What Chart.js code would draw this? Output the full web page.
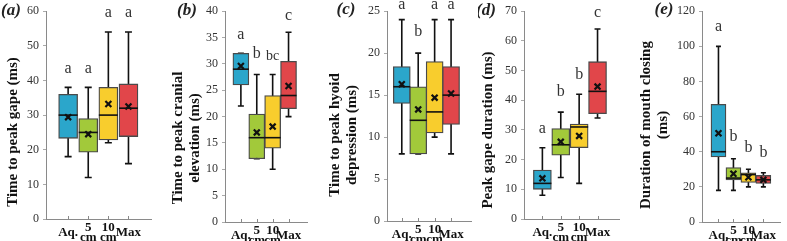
<!DOCTYPE html>
<html lang="en">
<head>
    <meta charset="UTF-8">
    <title>Feeding kinematics box plots</title>
    <style>
        body {
            margin: 0;
            background: #ffffff;
        }
        #wrap {
            position: relative;
            width: 787px;
            height: 241px;
            overflow: hidden;
        }
        #wrap canvas {
            position: absolute;
            top: 0;
        }
    </style>
    <script src="https://cdn.jsdelivr.net/npm/chart.js"></script>
</head>
<body>
    <div id="wrap"></div>

    <script>
        // groups on the x axis
        const categories = ['Aq.', '5 cm', '10 cm', 'Max'];
        const tickLabels = [['Aq.'], ['5', 'cm'], ['10', 'cm'], ['Max']];

        // (a) time to peak gape
        const gapeMin = [18, 12, 22, 16];
        const gapeQ1 = [23.3, 19.3, 22.8, 23.8];
        const gapeMedian = [30, 25, 30, 32];
        const gapeQ3 = [36, 29, 38, 39];
        const gapeMax = [38, 38, 54, 54];
        const gapeMean = [29.4, 24.5, 33.2, 32.5];
        const gapeLetters = ['a', 'a', 'a', 'a'];
        const gapeLetterY = [43.5, 43.5, 59.5, 59.5];

        // (b) time to peak cranial elevation
        const cranMin = [22, 12, 10, 20];
        const cranQ1 = [26, 12, 14, 21.5];
        const cranMedian = [29, 16, 16, 24];
        const cranQ3 = [32, 20.5, 24, 30.5];
        const cranMax = [32, 28, 28, 36];
        const cranMean = [29.6, 17, 18.1, 25.8];
        const cranLetters = ['a', 'b', 'bc', 'c'];
        const cranLetterY = [35.5, 32, 31.5, 39.2];

        // (c) time to peak hyoid depression
        const hyoMin = [8, 8, 10, 8];
        const hyoQ1 = [14, 8, 10.5, 11.5];
        const hyoMedian = [16, 12, 13, 15];
        const hyoQ3 = [18.4, 16, 19, 18.4];
        const hyoMax = [24, 20, 24, 24];
        const hyoMean = [16.3, 13.3, 14.7, 15.2];
        const hyoLetters = ['a', 'b', 'a', 'a'];
        const hyoLetterY = [25.8, 22.6, 25.8, 25.8];

        // (d) peak gape duration
        const durMin = [8, 14, 12, 34];
        const durQ1 = [10, 21.5, 24, 35.5];
        const durMedian = [12, 25, 31, 43];
        const durQ3 = [16.5, 30.5, 32, 53];
        const durMax = [24, 36, 42, 64];
        const durMean = [13.7, 26, 28, 44.6];
        const durLetters = ['a', 'b', 'b', 'c'];
        const durLetterY = [30.5, 43, 48.5, 69.5];

        // (e) duration of mouth closing
        const closeMin = [18, 18, 20, 20];
        const closeQ1 = [37, 24, 22.5, 22];
        const closeMedian = [40, 25, 27, 24];
        const closeQ3 = [67, 31, 28, 26.5];
        const closeMax = [100, 36, 30, 28];
        const closeMean = [50.5, 27.5, 25.5, 24];
        const closeLetters = ['a', 'b', 'b', 'b'];
        const closeLetterY = [111, 48.5, 42.5, 39.5];

        const fills = ['#2ba6cb', '#a2c93a', '#f8cd2d', '#e1464a'];

        const panels = [
            { tag: '(a)', title: ['Time to peak gape (ms)'], yMax: 60, step: 10,
              min: gapeMin, q1: gapeQ1, med: gapeMedian, q3: gapeQ3, max: gapeMax, mean: gapeMean,
              letters: gapeLetters, letterY: gapeLetterY,
              left: 0, width: 158, L: 46, R: 153, T: 11, B: 219, xMin: -0.1, xMax: 5.15, box: 19, cap: 7,
              tagX: 11, tagY: 11, titleX: 13, titleY: 132 },
            { tag: '(b)', title: ['Time to peak cranial', 'elevation (ms)'], yMax: 40, step: 5,
              min: cranMin, q1: cranQ1, med: cranMedian, q3: cranQ3, max: cranMax, mean: cranMean,
              letters: cranLetters, letterY: cranLetterY,
              left: 158, width: 156, L: 225, R: 312, T: 10, B: 222, xMin: 0, xMax: 5.2, box: 16, cap: 6,
              tagX: 187, tagY: 11, titleX: 187, titleY: 138 },
            { tag: '(c)', title: ['Time to peak hyoid', 'depression (ms)'], yMax: 25, step: 5,
              min: hyoMin, q1: hyoQ1, med: hyoMedian, q3: hyoQ3, max: hyoMax, mean: hyoMean,
              letters: hyoLetters, letterY: hyoLetterY,
              left: 314, width: 164, L: 387, R: 478, T: 8, B: 221, xMin: 0.1, xMax: 5.25, box: 17, cap: 6,
              tagX: 346, tagY: 10, titleX: 344, titleY: 135 },
            { tag: '(d)', title: ['Peak gape duration (ms)'], yMax: 70, step: 10,
              min: durMin, q1: durQ1, med: durMedian, q3: durQ3, max: durMax, mean: durMean,
              letters: durLetters, letterY: durLetterY,
              left: 478, width: 148, L: 524, R: 623, T: 10, B: 219, xMin: 0, xMax: 5.2, box: 18, cap: 6,
              tagX: 486, tagY: 11, titleX: 488, titleY: 130 },
            { tag: '(e)', title: ['Duration of mouth closing', '(ms)'], yMax: 120, step: 20,
              min: closeMin, q1: closeQ1, med: closeMedian, q3: closeQ3, max: closeMax, mean: closeMean,
              letters: closeLetters, letterY: closeLetterY,
              left: 626, width: 161, L: 702, R: 784, T: 8, B: 222, xMin: -0.1, xMax: 5.15, box: 15, cap: 5,
              tagX: 664, tagY: 10, titleX: 655, titleY: 125 }
        ];

        const serif = "'Liberation Serif', 'DejaVu Serif', serif";

        // whiskers behind the boxes, medians on top of them, letters and titles last
        const boxPlot = {
            id: 'boxPlot',
            beforeDatasetsDraw(chart) {
                const p = chart.options.plugins.boxPlot.panel;
                const xs = chart.scales.x, ys = chart.scales.y;
                const ctx = chart.ctx;
                ctx.save();
                ctx.strokeStyle = '#111';
                ctx.lineWidth = 1.6;
                p.min.forEach((lo, i) => {
                    const x = xs.getPixelForValue(i + 1);
                    const yLo = ys.getPixelForValue(lo);
                    const yHi = ys.getPixelForValue(p.max[i]);
                    ctx.beginPath();
                    ctx.moveTo(x, yLo);
                    ctx.lineTo(x, yHi);
                    ctx.moveTo(x - p.cap / 2, yLo);
                    ctx.lineTo(x + p.cap / 2, yLo);
                    ctx.moveTo(x - p.cap / 2, yHi);
                    ctx.lineTo(x + p.cap / 2, yHi);
                    ctx.stroke();
                });
                ctx.restore();
            },
            afterDatasetDraw(chart, args) {
                if (args.index !== 1) return;
                const p = chart.options.plugins.boxPlot.panel;
                const xs = chart.scales.x, ys = chart.scales.y;
                const ctx = chart.ctx;
                ctx.save();
                ctx.strokeStyle = '#111';
                ctx.lineWidth = 1.6;
                p.med.forEach((m, i) => {
                    const x = xs.getPixelForValue(i + 1);
                    const y = ys.getPixelForValue(m);
                    ctx.beginPath();
                    ctx.moveTo(x - p.box / 2, y);
                    ctx.lineTo(x + p.box / 2, y);
                    ctx.stroke();
                });
                ctx.restore();
            },
            afterDraw(chart) {
                const p = chart.options.plugins.boxPlot.panel;
                const xs = chart.scales.x, ys = chart.scales.y;
                const ctx = chart.ctx;
                ctx.save();
                // small inward ticks on the x axis
                ctx.strokeStyle = '#888';
                ctx.lineWidth = 1;
                for (let i = 1; i <= categories.length; i++) {
                    const x = Math.round(xs.getPixelForValue(i)) + 0.5;
                    ctx.beginPath();
                    ctx.moveTo(x, ys.bottom);
                    ctx.lineTo(x, ys.bottom - 3);
                    ctx.stroke();
                }
                // significance letters
                ctx.fillStyle = '#333';
                ctx.textAlign = 'center';
                ctx.textBaseline = 'middle';
                p.letters.forEach((t, i) => {
                    const fs = t.length > 1 ? 14 : 16;
                    ctx.font = fs + 'px ' + serif;
                    ctx.fillText(t, xs.getPixelForValue(i + 1), ys.getPixelForValue(p.letterY[i]));
                });
                // panel tag
                ctx.fillStyle = '#222';
                ctx.font = 'italic bold 17px ' + serif;
                ctx.fillText(p.tag, p.tagX - p.left, p.tagY);
                // y title
                ctx.translate(p.titleX - p.left, p.titleY);
                ctx.rotate(-Math.PI / 2);
                ctx.fillStyle = '#111';
                ctx.font = 'bold 15px ' + serif;
                const n = p.title.length;
                p.title.forEach((line, k) => {
                    ctx.fillText(line, 0, (k - (n - 1) / 2) * 17);
                });
                ctx.restore();
            }
        };

        const wrap = document.getElementById('wrap');

        panels.forEach(p => {
            const canvas = document.createElement('canvas');
            canvas.width = p.width;
            canvas.height = 241;
            canvas.style.left = p.left + 'px';
            canvas.style.width = p.width + 'px';
            canvas.style.height = '241px';
            wrap.appendChild(canvas);

            new Chart(canvas, {
                type: 'bar',
                data: {
                    datasets: [
                        {
                            type: 'scatter',
                            data: p.mean.map((m, i) => ({ x: i + 1, y: m })),
                            pointStyle: 'crossRot',
                            pointRadius: 4.2,
                            borderColor: '#111',
                            borderWidth: 2.2,
                            backgroundColor: '#111'
                        },
                        {
                            type: 'bar',
                            data: p.q1.map((q, i) => ({ x: i + 1, y: [q, p.q3[i]] })),
                            backgroundColor: fills,
                            borderColor: '#4a4a4a',
                            borderWidth: 1.3,
                            borderSkipped: false,
                            barThickness: p.box,
                            grouped: false
                        }
                    ]
                },
                options: {
                    responsive: false,
                    animation: false,
                    devicePixelRatio: 1,
                    layout: {
                        padding: { top: p.T, right: p.left + p.width - p.R, left: 0, bottom: 0 }
                    },
                    scales: {
                        x: {
                            type: 'linear',
                            offset: false,
                            min: p.xMin,
                            max: p.xMax,
                            afterBuildTicks: s => { s.ticks = categories.map((c, i) => ({ value: i + 1 })); },
                            afterFit: s => { s.height = 241 - p.B; },
                            grid: { display: false, offset: false },
                            border: { color: '#8a8a8a', width: 1 },
                            ticks: {
                                autoSkip: false,
                                maxRotation: 0,
                                minRotation: 0,
                                padding: 1,
                                crossAlign: 'center',
                                color: '#111',
                                font: { family: serif, size: 13, weight: 'bold', lineHeight: 0.72 },
                                callback: (v, i) => tickLabels[i]
                            }
                        },
                        y: {
                            min: 0,
                            max: p.yMax,
                            afterFit: s => { s.width = p.L - p.left; },
                            grid: { display: true, drawOnChartArea: false, tickLength: 3, color: '#aaa' },
                            border: { color: '#8a8a8a', width: 1 },
                            ticks: {
                                stepSize: p.step,
                                padding: 4,
                                color: '#333',
                                font: { family: serif, size: 12 }
                            }
                        }
                    },
                    plugins: {
                        legend: { display: false },
                        tooltip: { enabled: false },
                        boxPlot: { panel: p }
                    }
                },
                plugins: [boxPlot]
            });
        });
    </script>
</body>
</html>
